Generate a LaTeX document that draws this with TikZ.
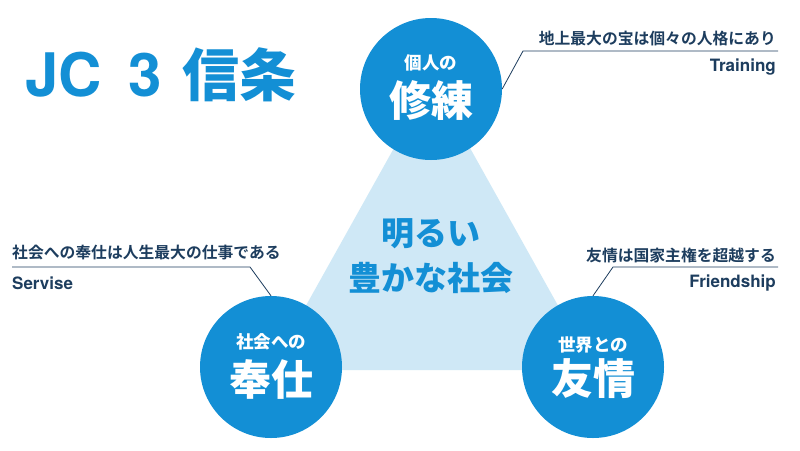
\documentclass[tikz,border=0pt]{standalone}
\usepackage{fontspec}
\setmainfont{Noto Sans CJK JP}[BoldFont={Noto Sans CJK JP Bold}]
\newfontfamily\heavy{Noto Sans CJK JP Black}
\newfontfamily\latin{TeX Gyre Heros}
\definecolor{jcblue}{HTML}{138FD5}
\definecolor{jclight}{HTML}{CFE8F6}
\definecolor{jcnavy}{HTML}{1D3D5E}
\begin{document}
\begin{tikzpicture}[x=1pt,y=-1pt,
  bigcircle/.style={circle,fill=jcblue,minimum size=142pt,inner sep=0pt},
  smalltxt/.style={text=white,font=\heavy\fontsize{17.5}{17.5}\selectfont,inner sep=0pt},
  bigtxt/.style={text=white,font=\heavy\fontsize{42}{42}\selectfont,inner sep=0pt},
  calltxt/.style={text=jcnavy,font=\bfseries\fontsize{15.8}{15.8}\selectfont,inner sep=0pt},
  callen/.style={text=jcnavy,font=\latin\bfseries\fontsize{17}{17}\selectfont,inner sep=0pt},
  leader/.style={draw=jcnavy,line width=0.8pt},
  titletxt/.style={text=jcblue,inner sep=0pt},
  centertxt/.style={text=jcblue,font=\heavy\fontsize{33}{33}\selectfont,inner sep=0pt}]
\useasboundingbox (0,0) rectangle (800,450);
\fill[white] (0,0) rectangle (800,450);
% triangle
\coordinate (tA) at (432,80);
\coordinate (tB) at (270,370);
\coordinate (tC) at (594,370);
\fill[jclight] (tA) -- (tB) -- (tC) -- cycle;
% title
\node[titletxt,anchor=west,font=\latin\bfseries\fontsize{60}{60}\selectfont] (titleA) at (25,75) {JC};
\node[titletxt,anchor=west,font=\latin\bfseries\fontsize{60}{60}\selectfont] (titleB) at (128,75) {3};
\node[titletxt,anchor=west,font=\heavy\fontsize{57}{57}\selectfont] (titleC) at (182,75) {信条};
% circles
\node[bigcircle] (top) at (431,89) {};
\node[bigcircle] (left) at (271,367) {};
\node[bigcircle] (right) at (593,367) {};
% circle texts
\node[smalltxt] (topS) at (431,63) {個人の};
\node[bigtxt] (topB) at (431,101) {修練};
\node[smalltxt] (leftS) at (271,342) {社会への};
\node[bigtxt] (leftB) at (271,379) {奉仕};
\node[smalltxt] (rightS) at (593,345) {世界との};
\node[bigtxt] (rightB) at (593,379) {友情};
% center
\node[centertxt] (c1) at (431,234) {明るい};
\node[centertxt] (c2) at (431,278) {豊かな社会};
% callouts
\node[calltxt,anchor=east] (topT) at (776,38) {地上最大の宝は個々の人格にあり};
\node[callen,anchor=east] (topE) at (776,67) {Training};
\coordinate (topL1) at (523,51);
\coordinate (topL2) at (778,51);
\draw[leader] (topL2) -- (topL1) -- (top.east);
\node[calltxt,anchor=west] (leftT) at (12,253) {社会への奉仕は人生最大の仕事である};
\node[callen,anchor=west] (leftE) at (12,283) {Servise};
\coordinate (leftL1) at (12,267);
\coordinate (leftL2) at (250,267);
\draw[leader] (leftL1) -- (leftL2) -- (left.north);
\node[calltxt,anchor=east] (rightT) at (776,255) {友情は国家主権を超越する};
\node[callen,anchor=east] (rightE) at (776,283) {Friendship};
\coordinate (rightL1) at (613,267);
\coordinate (rightL2) at (778,267);
\draw[leader] (rightL2) -- (rightL1) -- (right.north);
\end{tikzpicture}
\end{document}
